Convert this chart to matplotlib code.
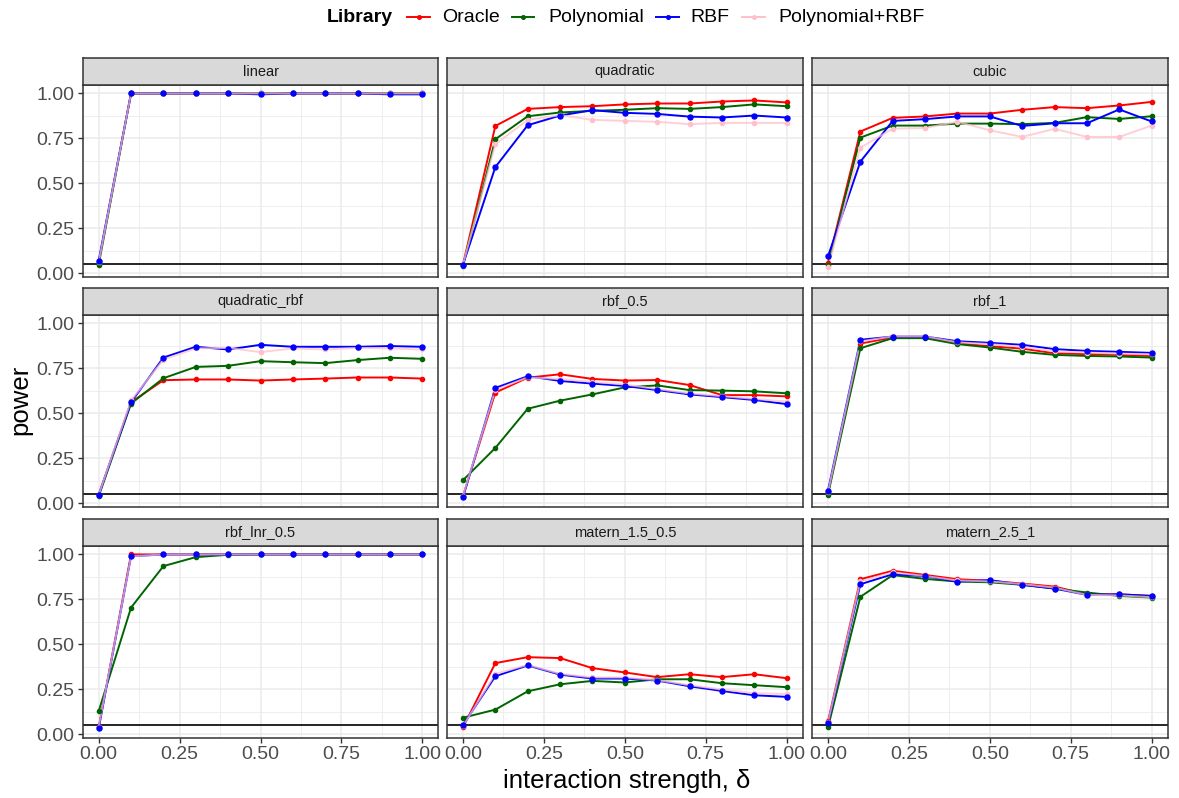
import matplotlib
matplotlib.use("Agg")
import matplotlib.pyplot as plt
from matplotlib.lines import Line2D
import numpy as np

plt.rcParams['font.family'] = ['Liberation Sans', 'DejaVu Sans']

# ---------------- data ----------------
delta = [0.0, 0.1, 0.2, 0.3, 0.4, 0.5, 0.6, 0.7, 0.8, 0.9, 1.0]
libraries = ["Oracle", "Polynomial", "RBF", "Polynomial+RBF"]
lib_colors = ["#FF0000", "#006400", "#0000FF", "#FFC0CB"]
scenarios = ["linear", "quadratic", "cubic",
             "quadratic_rbf", "rbf_0.5", "rbf_1",
             "rbf_lnr_0.5", "matern_1.5_0.5", "matern_2.5_1"]
tick_vals = [0.0, 0.25, 0.5, 0.75, 1.0]
tick_labels = ["0.00", "0.25", "0.50", "0.75", "1.00"]

linear_oracle = [0.060, 1.0, 1.0, 1.0, 1.0, 1.0, 1.0, 1.0, 1.0, 1.0, 1.0]
linear_poly   = [0.047, 1.0, 1.0, 1.0, 1.0, 1.0, 1.0, 1.0, 1.0, 1.0, 1.0]
linear_rbf    = [0.069, 1.0, 1.0, 1.0, 1.0, 0.995, 1.0, 1.0, 1.0, 0.995, 0.995]
linear_both   = [0.060, 1.0, 1.0, 1.0, 1.0, 1.0, 1.0, 1.0, 1.0, 1.0, 1.0]

quadratic_oracle = [0.047, 0.819, 0.914, 0.924, 0.929, 0.939, 0.944, 0.944, 0.955, 0.961, 0.950]
quadratic_poly   = [0.040, 0.745, 0.873, 0.894, 0.903, 0.909, 0.918, 0.914, 0.924, 0.939, 0.929]
quadratic_rbf    = [0.047, 0.590, 0.823, 0.877, 0.907, 0.892, 0.886, 0.871, 0.866, 0.877, 0.866]
quadratic_both   = [0.047, 0.717, 0.853, 0.879, 0.853, 0.847, 0.842, 0.829, 0.836, 0.836, 0.836]

cubic_oracle = [0.056, 0.788, 0.864, 0.872, 0.888, 0.888, 0.909, 0.924, 0.918, 0.933, 0.953]
cubic_poly   = [0.047, 0.754, 0.821, 0.821, 0.832, 0.832, 0.829, 0.836, 0.868, 0.858, 0.873]
cubic_rbf    = [0.093, 0.620, 0.847, 0.857, 0.872, 0.872, 0.819, 0.834, 0.834, 0.911, 0.844]
cubic_both   = [0.032, 0.698, 0.804, 0.808, 0.842, 0.795, 0.758, 0.803, 0.758, 0.758, 0.821]

qrbf_oracle = [0.046, 0.561, 0.684, 0.688, 0.688, 0.682, 0.688, 0.693, 0.699, 0.699, 0.693]
qrbf_poly   = [0.037, 0.554, 0.695, 0.758, 0.764, 0.790, 0.784, 0.779, 0.796, 0.809, 0.803]
qrbf_rbf    = [0.046, 0.561, 0.810, 0.870, 0.855, 0.881, 0.870, 0.870, 0.870, 0.874, 0.870]
qrbf_both   = [0.046, 0.571, 0.799, 0.861, 0.864, 0.840, 0.861, 0.855, 0.864, 0.861, 0.855]

rbf05_oracle = [0.037, 0.615, 0.698, 0.717, 0.691, 0.682, 0.685, 0.657, 0.601, 0.601, 0.594]
rbf05_poly   = [0.127, 0.307, 0.525, 0.570, 0.605, 0.644, 0.655, 0.629, 0.626, 0.622, 0.611]
rbf05_rbf    = [0.032, 0.641, 0.706, 0.680, 0.665, 0.652, 0.629, 0.605, 0.590, 0.574, 0.551]
rbf05_both   = [0.040, 0.630, 0.700, 0.690, 0.675, 0.660, 0.635, 0.610, 0.595, 0.580, 0.565]

rbf1_oracle = [0.056, 0.888, 0.922, 0.922, 0.890, 0.873, 0.860, 0.834, 0.829, 0.825, 0.819]
rbf1_poly   = [0.047, 0.862, 0.918, 0.918, 0.885, 0.866, 0.842, 0.825, 0.819, 0.816, 0.810]
rbf1_rbf    = [0.069, 0.909, 0.927, 0.927, 0.901, 0.892, 0.881, 0.857, 0.847, 0.842, 0.836]
rbf1_both   = [0.060, 0.900, 0.928, 0.928, 0.895, 0.885, 0.870, 0.845, 0.838, 0.832, 0.828]

lnr_oracle = [0.037, 1.0, 1.0, 1.0, 1.0, 1.0, 1.0, 1.0, 1.0, 1.0, 1.0]
lnr_poly   = [0.127, 0.704, 0.935, 0.985, 0.998, 1.0, 1.0, 1.0, 1.0, 1.0, 1.0]
lnr_rbf    = [0.032, 0.990, 1.0, 1.0, 1.0, 1.0, 1.0, 1.0, 1.0, 1.0, 1.0]
lnr_both   = [0.040, 0.990, 1.0, 1.0, 1.0, 1.0, 1.0, 1.0, 1.0, 1.0, 1.0]

m15_oracle = [0.037, 0.395, 0.428, 0.423, 0.367, 0.343, 0.317, 0.333, 0.317, 0.333, 0.311]
m15_poly   = [0.091, 0.136, 0.238, 0.277, 0.296, 0.287, 0.305, 0.305, 0.283, 0.272, 0.261]
m15_rbf    = [0.050, 0.322, 0.382, 0.331, 0.309, 0.309, 0.298, 0.266, 0.240, 0.216, 0.207]
m15_both   = [0.045, 0.335, 0.385, 0.335, 0.315, 0.315, 0.300, 0.272, 0.248, 0.228, 0.222]

m25_oracle = [0.071, 0.862, 0.909, 0.886, 0.862, 0.853, 0.838, 0.821, 0.778, 0.778, 0.769]
m25_poly   = [0.037, 0.764, 0.885, 0.864, 0.849, 0.845, 0.831, 0.810, 0.788, 0.769, 0.760]
m25_rbf    = [0.060, 0.834, 0.890, 0.879, 0.849, 0.857, 0.831, 0.810, 0.775, 0.778, 0.769]
m25_both   = [0.065, 0.850, 0.900, 0.880, 0.855, 0.850, 0.835, 0.815, 0.775, 0.772, 0.762]

nominal_level = 0.05

panel_data = {
    "linear": [linear_oracle, linear_poly, linear_rbf, linear_both],
    "quadratic": [quadratic_oracle, quadratic_poly, quadratic_rbf, quadratic_both],
    "cubic": [cubic_oracle, cubic_poly, cubic_rbf, cubic_both],
    "quadratic_rbf": [qrbf_oracle, qrbf_poly, qrbf_rbf, qrbf_both],
    "rbf_0.5": [rbf05_oracle, rbf05_poly, rbf05_rbf, rbf05_both],
    "rbf_1": [rbf1_oracle, rbf1_poly, rbf1_rbf, rbf1_both],
    "rbf_lnr_0.5": [lnr_oracle, lnr_poly, lnr_rbf, lnr_both],
    "matern_1.5_0.5": [m15_oracle, m15_poly, m15_rbf, m15_both],
    "matern_2.5_1": [m25_oracle, m25_poly, m25_rbf, m25_both],
}

# ---------------- layout ----------------
W, H = 1179, 798
fig = plt.figure(figsize=(W / 100, H / 100), dpi=100)
fig.patch.set_facecolor("white")

col_left = [82.5, 446.8, 811.8]
panel_w = 356.0
row_top = [85.0, 315.0, 546.0]
panel_h = 192.0
strip_h = 27.0

grey20 = "#333333"
grid_col = "#EBEBEB"

line_z = [3, 3, 3, 4]
point_z = [5, 5, 6, 5.5]
line_alpha = [1, 1, 1, 0.75]
msize = [3.0, 3.0, 3.6, 3.0]

for i, name in enumerate(scenarios):
    r, c = divmod(i, 3)
    x0 = col_left[c]
    y0 = row_top[r]
    ax = fig.add_axes([x0 / W, 1 - (y0 + panel_h) / H, panel_w / W, panel_h / H])
    ax.set_xlim(-0.05, 1.05)
    ax.set_ylim(-0.022, 1.047)
    ax.set_xticks(tick_vals)
    ax.set_xticks([0.125, 0.375, 0.625, 0.875], minor=True)
    ax.set_yticks(tick_vals)
    ax.set_yticks([0.125, 0.375, 0.625, 0.875], minor=True)
    ax.grid(True, which="major", color=grid_col, lw=1.1, zorder=0)
    ax.grid(True, which="minor", color=grid_col, lw=0.6, zorder=0)
    ax.set_axisbelow(True)
    for sp in ax.spines.values():
        sp.set_color(grey20)
        sp.set_linewidth(1.1)
    ax.tick_params(which="minor", length=0)
    ax.tick_params(which="major", color=grey20, length=3.6, width=1.0,
                   labelsize=14, labelcolor="#4D4D4D", pad=2)
    if c != 0:
        ax.tick_params(axis="y", which="major", length=0, labelleft=False)
    else:
        ax.set_yticklabels(tick_labels)
    if r != 2:
        ax.tick_params(axis="x", which="major", length=0, labelbottom=False)
    else:
        ax.set_xticklabels(tick_labels)

    ax.axhline(nominal_level, color="black", lw=1.2, zorder=2)
    series = panel_data[name]
    for k, vals in enumerate(series):
        ax.plot(delta, vals, color=lib_colors[k], lw=1.4, alpha=line_alpha[k],
                zorder=line_z[k], solid_capstyle="butt")
    for k, vals in enumerate(series):
        ax.plot(delta, vals, ls="none", marker="o", ms=msize[k],
                color=lib_colors[k], mec=lib_colors[k], zorder=point_z[k])

    # strip
    sax = fig.add_axes([x0 / W, 1 - y0 / H, panel_w / W, strip_h / H])
    sax.set_facecolor("#D9D9D9")
    sax.set_xticks([])
    sax.set_yticks([])
    for sp in sax.spines.values():
        sp.set_color(grey20)
        sp.set_linewidth(1.1)
    sax.text(0.5, 0.5, name, ha="center", va="center", fontsize=10.5,
             color="#1A1A1A", transform=sax.transAxes)

# axis titles
fig.text(20 / W, 1 - 400 / H, "power", rotation=90, ha="center", va="center",
         fontsize=18.5, color="black")
fig.text(627 / W, 1 - 781 / H, "interaction strength, δ", ha="center", va="center",
         fontsize=18.5, color="black")

# legend (manually laid out, ggplot-style horizontal legend)
leg_y = 1 - 17 / H
fig.text(327 / W, leg_y, "Library", ha="left", va="center",
         fontsize=14, fontweight="bold", color="black")
key_x = [(407, 430), (512, 534), (656, 679), (742, 765)]
text_x = [442, 548, 690, 778]
for k, lab in enumerate(libraries):
    xa, xb = key_x[k]
    fig.add_artist(Line2D([xa / W, xb / W], [leg_y, leg_y], transform=fig.transFigure,
                          color=lib_colors[k], lw=1.4))
    fig.add_artist(Line2D([(xa + xb) / 2 / W], [leg_y], transform=fig.transFigure,
                          color=lib_colors[k], marker="o", ms=2.6, ls="none"))
    fig.text(text_x[k] / W, leg_y, lab, ha="left", va="center", fontsize=14,
             color="black")

fig.savefig("out.png", dpi=100, facecolor="white")
